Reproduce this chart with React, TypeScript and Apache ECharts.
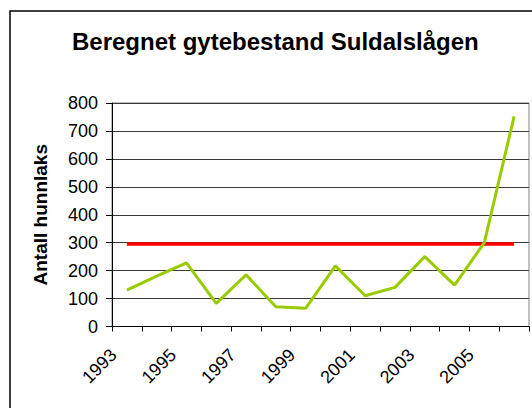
import React, { useEffect, useRef } from "react";
import * as echarts from "echarts";

const years = ["1993","1994","1995","1996","1997","1998","1999","2000","2001","2002","2003","2004","2005","2006"];
const spawners = [130, 180, 228, 83, 185, 71, 65, 217, 110, 140, 250, 148, 300, 752];
const targetLevel = 295;
const target = years.map(() => targetLevel);
const yTicks = { min: 0, max: 800, interval: 100 };

const FONT = "'Liberation Sans', Arial, sans-serif";

export default function App() {
  const ref = useRef<HTMLDivElement>(null);
  useEffect(() => {
    document.body.style.margin = "0";
    const chart = echarts.init(ref.current!, null, { renderer: "svg" });
    chart.setOption({
      animation: false,
      backgroundColor: "#ffffff",
      title: {
        text: "Beregnet gytebestand Suldalslågen",
        left: 67,
        top: 24,
        textStyle: { fontFamily: FONT, fontSize: 24, fontWeight: "bold", color: "#000" },
      },
      graphic: [
        {
          type: "rect",
          shape: { x: 10, y: 11, width: 540, height: 420 },
          style: { fill: "none", stroke: "#000", lineWidth: 1.5 },
          silent: true,
        },
      ],
      grid: {
        left: 112,
        right: 3,
        top: 103,
        bottom: 81.5,
        show: true,
        borderColor: "#808080",
        borderWidth: 1,
        backgroundColor: "transparent",
      },
      xAxis: {
        type: "category",
        data: years,
        boundaryGap: true,
        axisLine: { lineStyle: { color: "#000", width: 1 } },
        axisTick: { show: true, interval: 0, length: 5, lineStyle: { color: "#000" } },
        axisLabel: {
          interval: 1,
          rotate: 45,
          margin: 12,
          padding: [0, 19, 0, 0],
          fontFamily: FONT,
          fontSize: 18,
          color: "#000",
        },
        splitLine: { show: false },
      },
      yAxis: {
        type: "value",
        min: yTicks.min,
        max: yTicks.max,
        interval: yTicks.interval,
        name: "Antall hunnlaks",
        nameLocation: "middle",
        nameGap: 62,
        nameTextStyle: { fontFamily: FONT, fontSize: 19, fontWeight: "bold", color: "#000" },
        axisLine: { show: true, lineStyle: { color: "#000", width: 1 } },
        axisTick: { show: true, length: 6, lineStyle: { color: "#000" } },
        axisLabel: { margin: 14, fontFamily: FONT, fontSize: 18, color: "#000" },
        splitLine: { show: true, lineStyle: { color: "#3a3a3a", width: 1 } },
      },
      series: [
        {
          type: "line",
          data: target,
          symbol: "none",
          lineStyle: { color: "#ff0000", width: 3.5 },
          z: 2,
        },
        {
          type: "line",
          data: spawners,
          symbol: "none",
          lineStyle: { color: "#99cc00", width: 3 },
          z: 3,
        },
      ],
    });
    return () => chart.dispose();
  }, []);
  return <div ref={ref} style={{ width: 532, height: 408 }} />;
}
